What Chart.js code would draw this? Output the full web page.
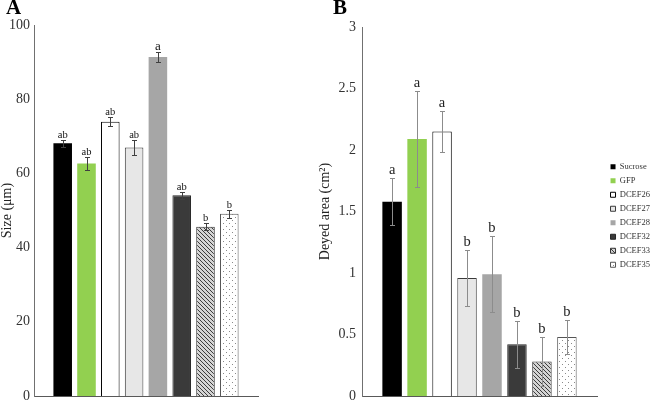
<!DOCTYPE html>
<html>
<head>
<meta charset="utf-8">
<script src="https://cdn.jsdelivr.net/npm/chart.js@4.4.1/dist/chart.umd.min.js"></script>
<style>
  html, body { margin: 0; padding: 0; background: #fff; }
  #wrap { position: relative; width: 657px; height: 401px; overflow: hidden; }
  #chartA { position: absolute; left: 0; top: 0; }
  #chartB { position: absolute; left: 318px; top: 0; }
  .panel { position: absolute; top: -3px; font: bold 21px "Liberation Serif", serif; line-height: 1; color: #000; }
</style>
</head>
<body>
<div id="wrap">
  <canvas id="chartA" width="318" height="401"></canvas>
  <canvas id="chartB" width="339" height="401"></canvas>
  <div class="panel" style="left:6px">A</div>
  <div class="panel" style="left:333px">B</div>
</div>
<script>
// data
const treatments = ["Sucrose", "GFP", "DCEF26", "DCEF27", "DCEF28", "DCEF32", "DCEF33", "DCEF35"];

const sizeMeans = [68.1, 62.7, 73.9, 67.0, 91.4, 54.1, 45.6, 49.1];
const sizeErrors = [1.0, 1.7, 1.2, 2.0, 1.3, 0.9, 0.9, 1.0];
const sizeLetters = ["ab", "ab", "ab", "ab", "a", "ab", "b", "b"];
const sizeTicks = [0, 20, 40, 60, 80, 100];

const areaMeans = [1.58, 2.09, 2.15, 0.96, 0.99, 0.42, 0.28, 0.48];
const areaErrors = [0.19, 0.39, 0.17, 0.225, 0.31, 0.19, 0.2, 0.135];
const areaLetters = ["a", "a", "a", "b", "b", "b", "b", "b"];
const areaTicks = [0, 0.5, 1, 1.5, 2, 2.5, 3];

const SERIF = '"Liberation Serif", "Times New Roman", serif';

function hatchPattern() {
  const c = document.createElement("canvas");
  c.width = 4; c.height = 4;
  const g = c.getContext("2d");
  g.fillStyle = "#d4d4d4";
  g.fillRect(0, 0, 4, 4);
  g.strokeStyle = "#3c3c3c";
  g.lineWidth = 1;
  g.beginPath();
  g.moveTo(-1, -1); g.lineTo(5, 5);
  g.moveTo(-1, 3); g.lineTo(1, 5);
  g.moveTo(3, -1); g.lineTo(5, 1);
  g.stroke();
  return g.createPattern(c, "repeat");
}

function dotPattern() {
  const c = document.createElement("canvas");
  c.width = 6; c.height = 6;
  const g = c.getContext("2d");
  g.fillStyle = "#ffffff";
  g.fillRect(0, 0, 6, 6);
  g.fillStyle = "#8a8a8a";
  g.fillRect(1, 1, 1, 1);
  g.fillRect(4, 4, 1, 1);
  return g.createPattern(c, "repeat");
}

const fills = ["#000000", "#92d050", "#ffffff", "#e7e7e7", "#a6a6a6", "#3a3a3a", hatchPattern(), dotPattern()];
const borders = ["#000000", "#92d050", "#000000", "#3a3a3a", "#a6a6a6", "#262626", "#333333", "#555555"];
const borderWidths = [0, 0, 1, 1, 0, 1, 1, 1];

function makeDatasets(means) {
  return treatments.map((name, i) => ({
    label: name,
    data: [means[i]],
    backgroundColor: fills[i],
    borderColor: borders[i],
    borderWidth: borderWidths[i],
    categoryPercentage: 0.85,
    barPercentage: 0.78,
  }));
}

function errorBars(id, errors, letters, opts) {
  return {
    id: id,
    afterDatasetsDraw(chart) {
      const ctx = chart.ctx;
      const y = chart.scales.y;
      ctx.save();
      chart.data.datasets.forEach((ds, i) => {
        const bar = chart.getDatasetMeta(i).data[0];
        const v = ds.data[0];
        const x = Math.round(bar.x) + 0.5;
        const top = Math.round(y.getPixelForValue(v + errors[i])) + 0.5;
        const bot = Math.round(y.getPixelForValue(v - errors[i])) + 0.5;
        ctx.strokeStyle = opts.color;
        ctx.lineWidth = 1;
        ctx.beginPath();
        ctx.moveTo(x, top); ctx.lineTo(x, bot);
        ctx.moveTo(x - opts.cap, top); ctx.lineTo(x + opts.cap, top);
        ctx.moveTo(x - opts.cap, bot); ctx.lineTo(x + opts.cap, bot);
        ctx.stroke();
        ctx.fillStyle = opts.textColor;
        ctx.font = opts.fontSize(letters[i]) + "px " + SERIF;
        ctx.textAlign = "center";
        ctx.textBaseline = "alphabetic";
        ctx.fillText(letters[i], bar.x, top - opts.gap);
      });
      ctx.restore();
    }
  };
}

function yAxis(ticks, title, width, padding) {
  return {
    min: ticks[0],
    max: ticks[ticks.length - 1],
    afterBuildTicks: (axis) => { axis.ticks = ticks.map(v => ({ value: v })); },
    afterFit: (axis) => { axis.width = width; axis.paddingTop = 0; axis.paddingBottom = 0; },
    grid: { display: false, drawTicks: false },
    border: { display: true, color: "#707070", width: 1 },
    ticks: {
      padding: padding,
      color: "#333333",
      font: { family: SERIF, size: 14 },
      callback: (v) => String(v),
    },
    title: {
      display: true,
      text: title,
      color: "#222222",
      padding: 0,
      font: { family: SERIF, size: 14, lineHeight: 1 },
    },
  };
}

const xAxis = {
  afterFit: (axis) => { axis.height = 0; },
  grid: { display: false, drawTicks: false },
  border: { display: true, color: "#595959", width: 1 },
  ticks: { display: false },
};

new Chart(document.getElementById("chartA"), {
  type: "bar",
  data: { labels: [""], datasets: makeDatasets(sizeMeans) },
  options: {
    responsive: false,
    animation: false,
    layout: { padding: { left: 0, top: 25, right: 60, bottom: 5 } },
    scales: { x: xAxis, y: yAxis(sizeTicks, "Size (μm)", 34, 4) },
    plugins: { legend: { display: false }, tooltip: { enabled: false } },
  },
  plugins: [errorBars("errA", sizeErrors, sizeLetters, {
    color: "#404040", cap: 2.5, gap: 3, textColor: "#111111",
    fontSize: (s) => (s === "a" ? 13 : 10.5),
  })],
});

new Chart(document.getElementById("chartB"), {
  type: "bar",
  data: { labels: [""], datasets: makeDatasets(areaMeans) },
  options: {
    responsive: false,
    animation: false,
    layout: { padding: { left: 0, top: 27, right: 5, bottom: 5 } },
    scales: { x: xAxis, y: yAxis(areaTicks, "Deyed area (cm²)", 44, 6) },
    plugins: {
      legend: {
        display: true,
        position: "right",
        align: "start",
        labels: {
          boxWidth: 5,
          boxHeight: 5,
          padding: 5.5,
          color: "#333333",
          font: { family: SERIF, size: 8.5 },
        },
      },
      tooltip: { enabled: false },
    },
  },
  plugins: [
    errorBars("errB", areaErrors, areaLetters, {
      color: "#8c8c8c", cap: 2.5, gap: 5, textColor: "#222222",
      fontSize: () => 14.5,
    }),
    {
      id: "legendSpot",
      afterLayout(chart) {
        const lg = chart.legend;
        const w = lg.width;
        lg.left = chart.chartArea.right + 8;
        lg.right = lg.left + w;
        lg.top = 157;
      },
    },
  ],
});
</script>
</body>
</html>
